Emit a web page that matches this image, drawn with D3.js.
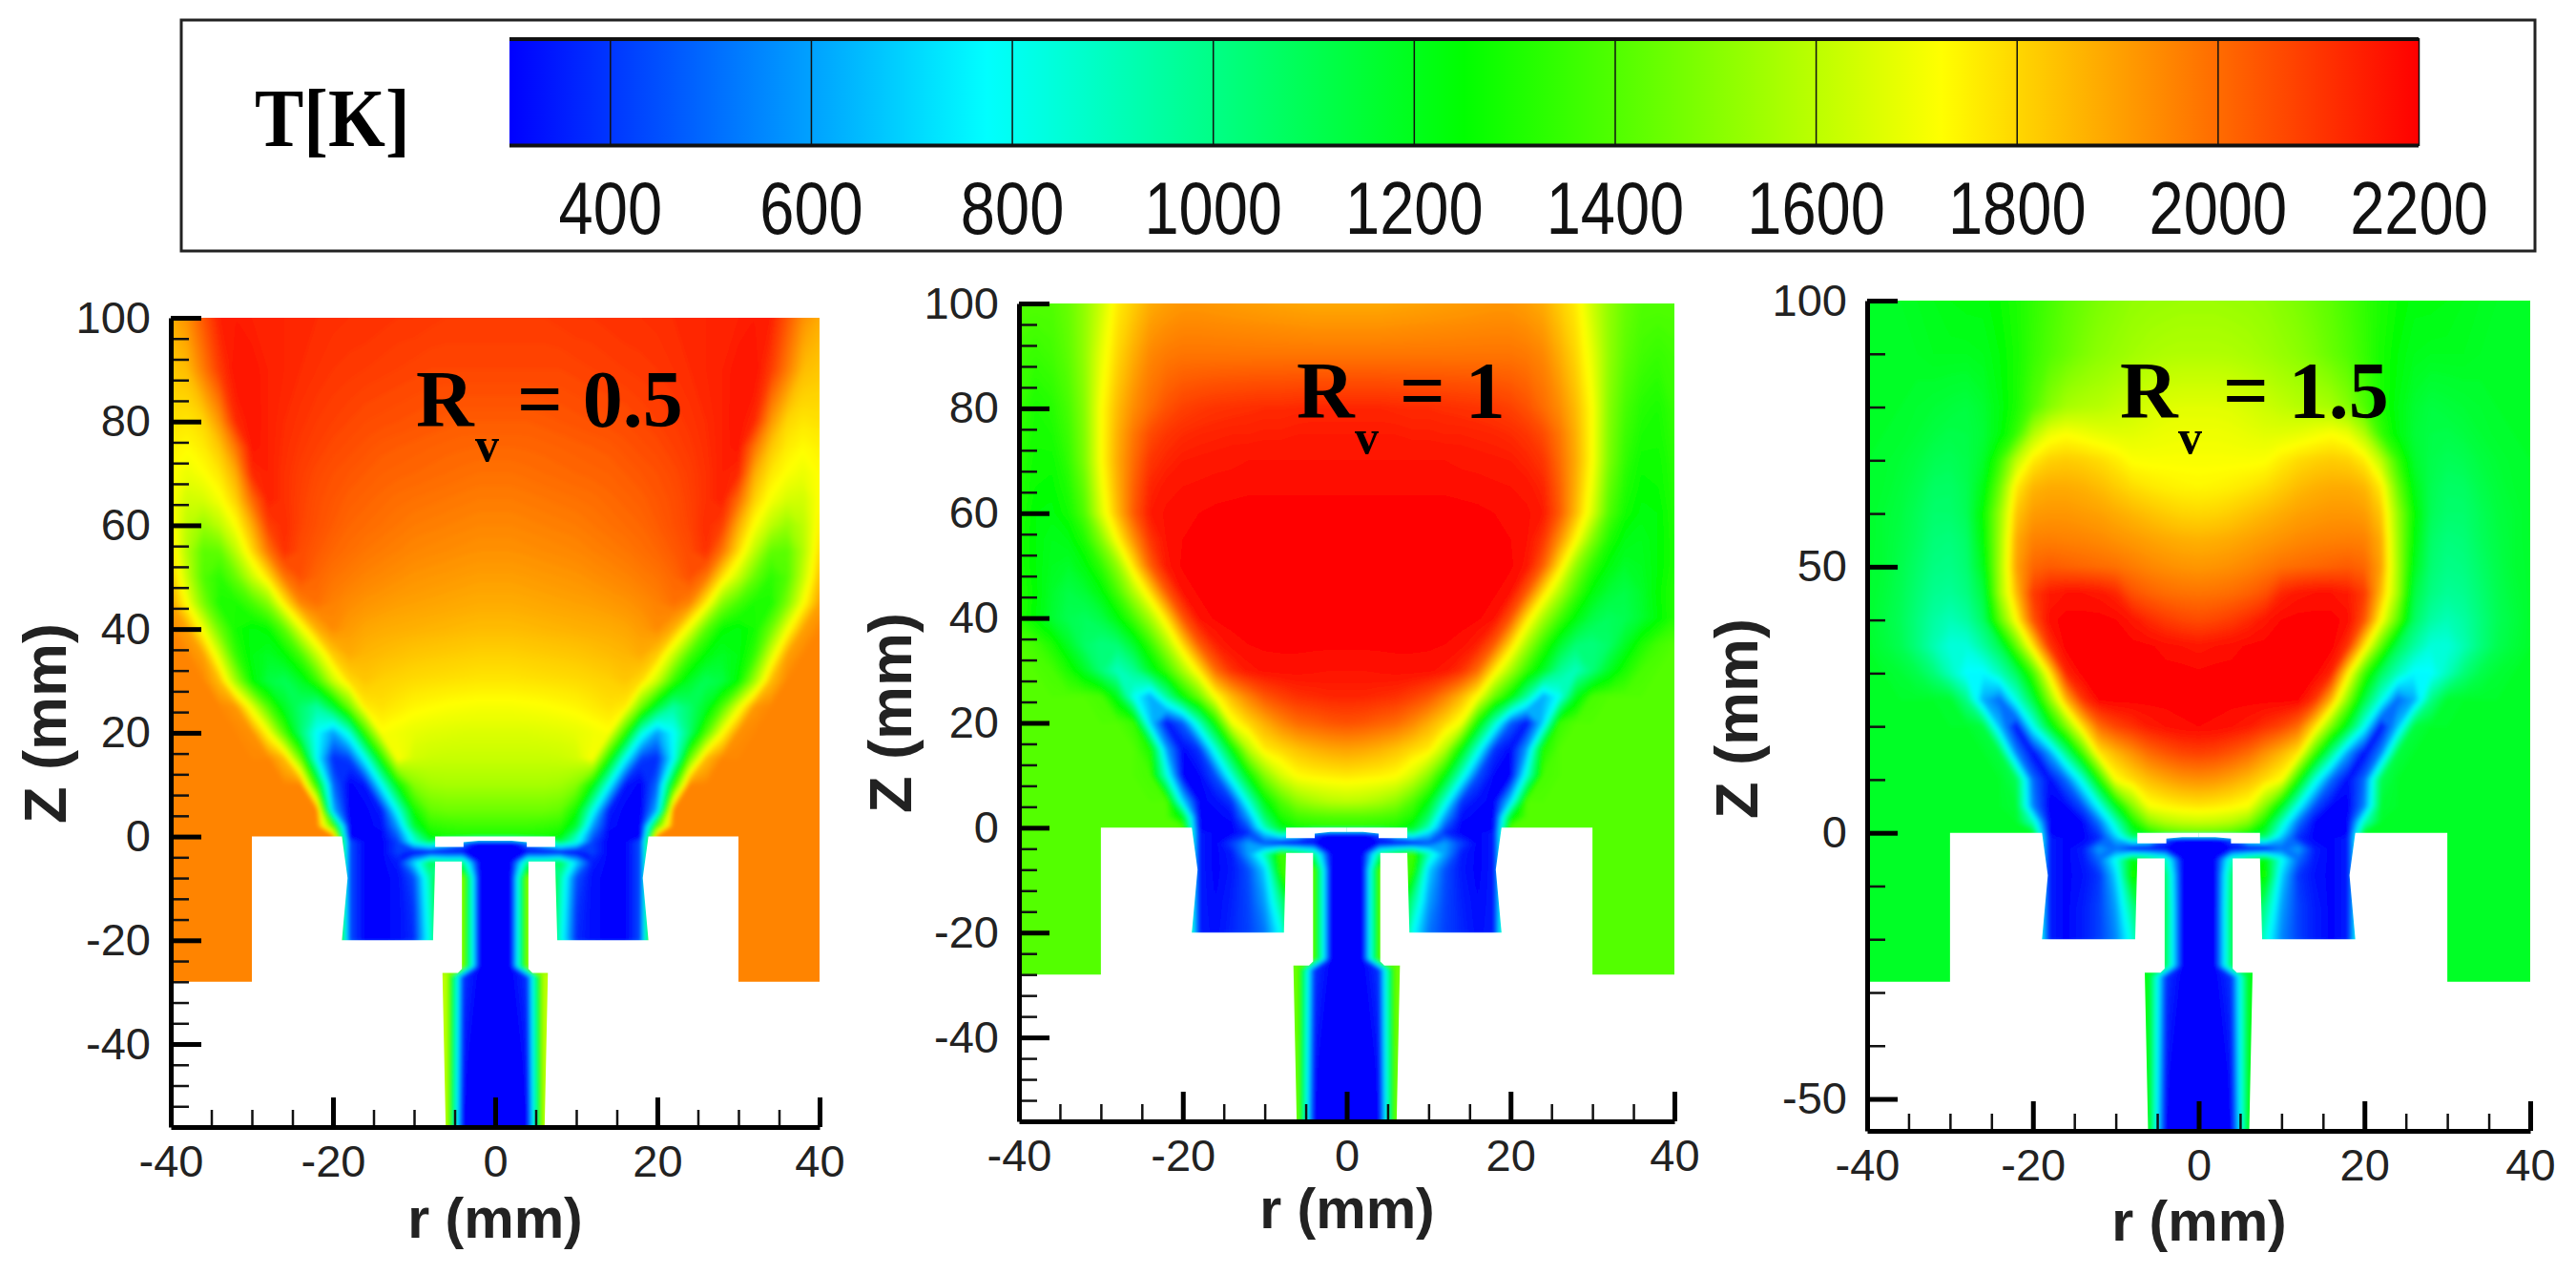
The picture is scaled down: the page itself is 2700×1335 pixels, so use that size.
<!doctype html>
<html lang="en">
<head>
<meta charset="UTF-8">
<title>Temperature fields</title>
<script src="https://d3js.org/d3.v7.min.js"></script>
<style>
  body { margin: 0; background: #fff; }
  svg { display: block; }
</style>
</head>
<body>
<div id="chart"></div>
<script>
  // temperature, half plane only (flames are symmetric about r = 0)
  const rCols = [0, 2, 4, 6, 8, 10, 12, 14, 16, 18, 20, 22, 24, 26, 28, 30, 32, 34, 36, 38, 40];
  const zRows = [100, 90, 80, 75, 70, 65, 60, 55, 50, 45, 40, 35, 30, 25, 20, 15, 10, 5, 2, 0, -1, -3, -5, -8, -14, -20, -25, -27, -56];

  const tempRv05 = [
    [2090,2090,2090,2090,2095,2100,2100,2105,2110,2110,2115,2120,2125,2130,2135,2140,2150,2140,2040,1930,1880],
    [2070,2070,2070,2070,2070,2075,2080,2085,2090,2095,2100,2110,2120,2130,2140,2160,2170,2090,1970,1850,1830],
    [2030,2030,2030,2035,2040,2045,2050,2055,2060,2070,2080,2090,2105,2120,2140,2165,2120,1920,1800,1770,1780],
    [2010,2010,2012,2015,2020,2025,2030,2035,2045,2055,2065,2080,2095,2115,2140,2160,1980,1830,1760,1730,1750],
    [1990,1990,1995,2000,2005,2010,2015,2020,2030,2040,2050,2065,2085,2110,2140,2120,1880,1770,1720,1690,1730],
    [1970,1970,1975,1980,1985,1990,1995,2005,2015,2025,2040,2055,2080,2110,2140,2000,1810,1710,1650,1640,1730],
    [1950,1950,1955,1960,1965,1970,1980,1990,2000,2010,2030,2050,2075,2120,2080,1880,1720,1600,1530,1600,1750],
    [1930,1930,1935,1940,1945,1950,1960,1970,1980,1995,2010,2035,2060,2110,1980,1790,1600,1430,1420,1580,1790],
    [1905,1905,1910,1915,1920,1925,1935,1945,1955,1970,1985,2010,2050,1980,1780,1620,1440,1330,1400,1620,1840],
    [1880,1880,1885,1890,1895,1900,1905,1915,1925,1940,1960,1990,1950,1760,1500,1380,1300,1300,1480,1720,1900],
    [1850,1850,1855,1860,1865,1870,1875,1880,1890,1910,1940,1870,1680,1420,1260,1230,1280,1450,1700,1900,1950],
    [1810,1810,1815,1820,1825,1830,1840,1850,1860,1880,1820,1620,1380,1240,1180,1220,1350,1650,1900,1950,1950],
    [1770,1770,1775,1780,1785,1790,1800,1810,1830,1790,1620,1350,1180,1090,1130,1260,1550,1850,1950,1950,1950],
    [1710,1710,1715,1720,1730,1740,1760,1780,1760,1450,1150,950,1050,1180,1400,1680,1920,1950,1950,1950,1950],
    [1660,1660,1660,1665,1670,1680,1700,1720,1350,850,600,780,1050,1400,1720,1930,1950,1950,1950,1950,1950],
    [1620,1620,1620,1620,1625,1640,1720,1300,800,420,380,780,1450,1850,1950,1950,1950,1950,1950,1950,1950],
    [1560,1560,1560,1560,1550,1500,1260,800,340,300,500,1300,1950,1950,1950,1950,1950,1950,1950,1950,1950],
    [1450,1450,1450,1450,1430,1280,820,350,300,300,650,1950,1950,1950,1950,1950,1950,1950,1950,1950,1950],
    [1360,1360,1360,1350,1330,1150,600,320,300,300,1400,1950,1950,1950,1950,1950,1950,1950,1950,1950,1950],
    [1300,1300,1300,1290,1250,900,480,300,300,300,1950,1950,1950,1950,1950,1950,1950,1950,1950,1950,1950],
    [300,300,600,800,1100,850,420,300,300,450,1950,1950,1950,1950,1950,1950,1950,1950,1950,1950,1950],
    [300,300,300,300,300,300,420,300,300,450,1950,1950,1950,1950,1950,1950,1950,1950,1950,1950,1950],
    [300,300,1000,1000,1100,700,350,300,300,450,1950,1950,1950,1950,1950,1950,1950,1950,1950,1950,1950],
    [300,300,1500,1500,950,450,320,300,300,450,1950,1950,1950,1950,1950,1950,1950,1950,1950,1950,1950],
    [300,300,1500,1500,900,400,320,300,300,450,1950,1950,1950,1950,1950,1950,1950,1950,1950,1950,1950],
    [300,300,1500,1500,850,380,320,300,300,450,1950,1950,1950,1950,1950,1950,1950,1950,1950,1950,1950],
    [300,300,1500,1500,1500,1500,1500,1500,1500,1500,1950,1950,1950,1950,1950,1950,1950,1950,1950,1950,1950],
    [300,300,400,1600,1600,1600,1600,1600,1600,1600,1950,1950,1950,1950,1950,1950,1950,1950,1950,1950,1950],
    [300,300,300,1600,1600,1600,1600,1600,1600,1600,1950,1950,1950,1950,1950,1950,1950,1950,1950,1950,1950]
  ];

  const tempRv1 = [
    [1885,1885,1885,1890,1895,1900,1905,1910,1915,1920,1920,1905,1880,1820,1760,1630,1520,1440,1400,1400,1400],
    [1985,1985,1985,1985,1985,1985,1985,1985,1985,1985,1985,1975,1950,1880,1800,1680,1520,1420,1370,1350,1370],
    [2130,2130,2130,2125,2120,2120,2115,2110,2105,2095,2080,2050,2000,1940,1850,1720,1500,1380,1320,1300,1350],
    [2150,2150,2150,2150,2145,2145,2140,2140,2135,2130,2120,2100,2060,1980,1870,1720,1490,1360,1300,1290,1340],
    [2170,2170,2170,2170,2170,2170,2170,2165,2160,2155,2150,2130,2100,2000,1880,1720,1480,1340,1270,1270,1330],
    [2185,2185,2185,2185,2185,2185,2185,2180,2180,2175,2170,2160,2130,2020,1870,1690,1440,1310,1250,1260,1320],
    [2200,2200,2200,2200,2200,2200,2200,2200,2195,2190,2185,2175,2150,2030,1850,1650,1400,1280,1230,1240,1310],
    [2200,2200,2200,2200,2200,2200,2200,2200,2200,2195,2190,2170,2100,1930,1730,1490,1310,1220,1200,1240,1300],
    [2200,2200,2200,2200,2200,2200,2200,2200,2200,2200,2195,2160,2020,1780,1520,1340,1230,1170,1190,1240,1300],
    [2200,2200,2200,2200,2200,2200,2200,2200,2200,2195,2170,2030,1790,1580,1380,1230,1150,1120,1170,1250,1320],
    [2200,2200,2200,2200,2200,2200,2200,2200,2195,2170,2040,1780,1560,1380,1230,1120,1080,1100,1160,1240,1320],
    [2195,2195,2195,2195,2195,2195,2190,2180,2140,2030,1800,1560,1350,1170,1040,1020,1060,1180,1300,1370,1400],
    [2170,2170,2175,2180,2180,2175,2160,2110,2000,1770,1560,1350,1180,980,900,1030,1180,1300,1380,1400,1400],
    [2130,2130,2120,2110,2080,2040,1960,1860,1720,1450,1250,950,620,800,1200,1380,1400,1400,1400,1400,1400],
    [2050,2040,2020,2000,1950,1880,1800,1700,1280,900,480,340,700,1350,1400,1400,1400,1400,1400,1400,1400],
    [1900,1890,1870,1840,1800,1760,1590,1250,850,400,310,600,1300,1400,1400,1400,1400,1400,1400,1400,1400],
    [1770,1760,1750,1730,1650,1500,1250,870,450,310,300,850,1380,1400,1400,1400,1400,1400,1400,1400,1400],
    [1600,1590,1560,1510,1400,1230,850,400,320,300,700,1400,1400,1400,1400,1400,1400,1400,1400,1400,1400],
    [1400,1400,1390,1370,1300,1060,600,320,300,300,1200,1400,1400,1400,1400,1400,1400,1400,1400,1400,1400],
    [1320,1320,1310,1290,1200,900,450,300,300,300,1400,1400,1400,1400,1400,1400,1400,1400,1400,1400,1400],
    [300,300,500,800,1000,700,380,300,300,350,1400,1400,1400,1400,1400,1400,1400,1400,1400,1400,1400],
    [300,300,300,300,300,450,600,420,300,350,1400,1400,1400,1400,1400,1400,1400,1400,1400,1400,1400],
    [300,300,1000,1200,1400,900,600,350,300,350,1400,1400,1400,1400,1400,1400,1400,1400,1400,1400,1400],
    [300,300,1400,1400,1350,700,450,340,300,350,1400,1400,1400,1400,1400,1400,1400,1400,1400,1400,1400],
    [300,300,1400,1400,1000,600,430,360,310,350,1400,1400,1400,1400,1400,1400,1400,1400,1400,1400,1400],
    [300,300,1400,1400,800,520,420,370,320,350,1400,1400,1400,1400,1400,1400,1400,1400,1400,1400,1400],
    [300,300,1400,1400,1400,1400,1400,1400,1400,1400,1400,1400,1400,1400,1400,1400,1400,1400,1400,1400,1400],
    [300,300,400,1450,1450,1450,1450,1450,1450,1450,1400,1400,1400,1400,1400,1400,1400,1400,1400,1400,1400],
    [300,300,300,1450,1450,1450,1450,1450,1450,1450,1400,1400,1400,1400,1400,1400,1400,1400,1400,1400,1400]
  ];

  const tempRv15 = [
    [1540,1540,1535,1530,1520,1500,1480,1450,1420,1380,1340,1300,1260,1230,1230,1220,1200,1190,1180,1170,1170],
    [1580,1580,1575,1565,1550,1530,1510,1480,1440,1400,1350,1290,1240,1200,1190,1190,1190,1180,1170,1170,1170],
    [1670,1670,1665,1650,1630,1610,1590,1580,1560,1500,1400,1300,1220,1160,1130,1140,1150,1160,1170,1170,1170],
    [1695,1695,1690,1680,1670,1670,1680,1700,1720,1690,1580,1350,1230,1150,1120,1115,1130,1150,1165,1170,1170],
    [1715,1715,1715,1715,1720,1760,1790,1810,1820,1810,1760,1600,1350,1170,1110,1090,1100,1130,1150,1165,1170],
    [1740,1745,1755,1770,1790,1820,1850,1870,1880,1880,1860,1760,1450,1210,1100,1065,1070,1110,1140,1160,1170],
    [1800,1805,1820,1840,1860,1880,1900,1910,1920,1920,1910,1830,1530,1260,1090,1050,1050,1090,1130,1150,1170],
    [1870,1875,1885,1900,1915,1930,1945,1955,1960,1965,1960,1880,1550,1240,1060,1020,1030,1080,1120,1150,1170],
    [1920,1925,1935,1950,1970,1990,2000,2010,2020,2030,2010,1900,1560,1200,1040,1000,1010,1060,1110,1150,1165],
    [1985,1990,2000,2020,2050,2130,2160,2170,2170,2150,2090,1850,1550,1130,1010,970,985,1040,1100,1140,1165],
    [2060,2070,2090,2120,2160,2190,2200,2200,2200,2180,2040,1730,1420,1070,950,910,950,1020,1090,1130,1165],
    [2160,2170,2180,2195,2200,2200,2200,2200,2200,2100,1770,1420,1100,950,840,840,920,1020,1100,1140,1170],
    [2195,2200,2200,2200,2200,2200,2200,2200,2130,1760,1370,1080,900,760,770,900,1030,1110,1150,1170,1170],
    [2200,2200,2200,2200,2200,2200,2190,2100,1860,1500,1130,830,500,620,1000,1160,1170,1170,1170,1170,1170],
    [2190,2185,2170,2150,2110,2070,2000,1790,1480,1180,800,340,650,1130,1170,1170,1170,1170,1170,1170,1170],
    [2080,2070,2040,2000,1930,1860,1770,1380,1000,600,320,550,1130,1170,1170,1170,1170,1170,1170,1170,1170],
    [1930,1920,1890,1850,1790,1720,1300,850,500,320,500,1100,1170,1170,1170,1170,1170,1170,1170,1170,1170],
    [1770,1760,1740,1710,1500,1200,800,450,310,300,550,1150,1170,1170,1170,1170,1170,1170,1170,1170,1170],
    [1620,1610,1580,1500,1280,900,520,310,300,300,900,1170,1170,1170,1170,1170,1170,1170,1170,1170,1170],
    [1450,1440,1400,1300,1150,750,420,300,300,300,1170,1170,1170,1170,1170,1170,1170,1170,1170,1170,1170],
    [300,300,500,900,1000,650,380,300,300,350,1170,1170,1170,1170,1170,1170,1170,1170,1170,1170,1170],
    [300,300,300,300,300,500,600,350,300,350,1170,1170,1170,1170,1170,1170,1170,1170,1170,1170,1170],
    [300,300,900,1100,1250,800,500,340,300,350,1170,1170,1170,1170,1170,1170,1170,1170,1170,1170,1170],
    [300,300,1050,1150,1300,700,400,330,300,350,1170,1170,1170,1170,1170,1170,1170,1170,1170,1170,1170],
    [300,300,1100,1150,1000,600,420,350,300,350,1170,1170,1170,1170,1170,1170,1170,1170,1170,1170,1170],
    [300,300,1100,1150,850,550,420,350,300,350,1170,1170,1170,1170,1170,1170,1170,1170,1170,1170,1170],
    [300,300,1100,1150,1150,1150,1150,1150,1150,1150,1170,1170,1170,1170,1170,1170,1170,1170,1170,1170,1170],
    [300,300,400,1200,1200,1200,1200,1200,1200,1200,1170,1170,1170,1170,1170,1170,1170,1170,1170,1170,1170],
    [300,300,300,1200,1200,1200,1200,1200,1200,1200,1170,1170,1170,1170,1170,1170,1170,1170,1170,1170,1170]
  ];

  // solid walls (white), r >= 0 side, in mm
  const solidWall = [[4.1,-4.8],[7.4,-4.8],[7.66,-20],[18.9,-20],[18.2,-8],[18.9,0],[30,0],[30,-28],[40.5,-28],[40.5,-56],[6.1,-56],[6.5,-26.3],[4.6,-26.3],[4.1,-25.5]];
  const capGap = [[0,0],[7.4,0],[7.4,-2],[3.9,-2],[3.9,-1.1],[2,-0.8],[0,-0.8]];

  const rMajor = [-40, -20, 0, 20, 40];
  const rMinor = [-35, -30, -25, -15, -10, -5, 5, 10, 15, 25, 30, 35];
  const zMajor20 = [100, 80, 60, 40, 20, 0, -20, -40];
  const zMinor20 = [96, 92, 88, 84, 76, 72, 68, 64, 56, 52, 48, 44, 36, 32, 28, 24, 16, 12, 8, 4, -4, -8, -12, -16, -24, -28, -32, -36, -44, -48, -52];
  const zMajor50 = [100, 50, 0, -50];
  const zMinor50 = [90, 80, 70, 60, 40, 30, 20, 10, -10, -20, -30, -40];

  const legendTicks = [400, 600, 800, 1000, 1200, 1400, 1600, 1800, 2000, 2200];
  const tempStops = [300, 775, 1250, 1725, 2200];
  const colorStops = ['#0000ff', '#00ffff', '#00ff00', '#ffff00', '#ff0000'];
  const levels = d3.range(290, 2200, 10);

  const panels = [
    { temp: tempRv05, rv: '= 0.5', left: 179, right: 859, top: 333, bottom: 1181, zMajor: zMajor20, zMinor: zMinor20,
      rLabel: [519, 1297], zLabel: [69, 758], rText: [436, 447], vText: [498, 483], eqText: [542, 447] },
    { temp: tempRv1, rv: '= 1', left: 1068, right: 1755, top: 318, bottom: 1175, zMajor: zMajor20, zMinor: zMinor20,
      rLabel: [1412, 1287], zLabel: [955, 747], rText: [1359, 438], vText: [1420, 475], eqText: [1467, 438] },
    { temp: tempRv15, rv: '= 1.5', left: 1957, right: 2652, top: 315, bottom: 1185, zMajor: zMajor50, zMinor: zMinor50,
      rLabel: [2305, 1300], zLabel: [1842, 753], rText: [2222, 438], vText: [2283, 475], eqText: [2330, 438] }
  ];

  const sans = '"Liberation Sans", Arial, sans-serif';
  const serif = '"Liberation Serif", "Times New Roman", serif';

  const svg = d3.select('#chart').append('svg')
    .attr('width', 2700)
    .attr('height', 1335);

  const defs = svg.append('defs');
  defs.append('filter').attr('id', 'soften')
    .append('feGaussianBlur').attr('stdDeviation', 2);

  const tempColor = d3.scaleLinear().domain(tempStops).range(colorStops).clamp(true);

  function drawLegend() {
    const legendX = d3.scaleLinear().domain([300, 2200]).range([534, 2535]);

    svg.append('rect')
      .attr('x', 190).attr('y', 21)
      .attr('width', 2467).attr('height', 242)
      .attr('fill', 'none').attr('stroke', '#222').attr('stroke-width', 3);

    const gradient = defs.append('linearGradient').attr('id', 'legendRamp');
    gradient.selectAll('stop').data(tempStops).join('stop')
      .attr('offset', d => (d - 300) / 1900)
      .attr('stop-color', d => tempColor(d));

    svg.append('rect')
      .attr('x', legendX(300)).attr('y', 40)
      .attr('width', legendX(2200) - legendX(300)).attr('height', 113)
      .attr('fill', 'url(#legendRamp)');
    svg.append('path')
      .attr('d', `M${legendX(300)},41H${legendX(2200)}M${legendX(300)},152.5H${legendX(2200)}`)
      .attr('stroke', '#111').attr('stroke-width', 4);

    const axis = svg.append('g')
      .attr('transform', 'translate(0,40)')
      .call(d3.axisBottom(legendX).tickValues(legendTicks).tickSize(113).tickFormat(d => d));
    axis.select('.domain').remove();
    axis.selectAll('line').attr('stroke', '#111').attr('stroke-width', 1.5);
    axis.selectAll('text')
      .attr('font-family', sans).attr('font-size', 65).attr('fill', '#111')
      .attr('y', 171).attr('dy', 0)
      .attr('transform', 'scale(1,1.2)');

    svg.append('text')
      .attr('transform', 'translate(267,153) scale(1,1.12)')
      .attr('font-family', serif).attr('font-weight', 'bold').attr('font-size', 77)
      .text('T[K]');
  }

  function drawPanel(p, i) {
    const rScale = d3.scaleLinear().domain([-40, 40]).range([p.left, p.right]);
    const zScale = d3.scaleLinear().domain([-56, 100]).range([p.bottom, p.top]);

    // full width grid, mirrored from the half plane table
    const rFull = [...rCols.slice(1).reverse().map(d => -d), ...rCols];
    const values = p.temp.flatMap(row => {
      if (row.length !== rCols.length) throw new Error('bad row length in panel ' + i + ': ' + row.length);
      return [...row.slice(1).reverse(), ...row];
    });
    if (p.temp.length !== zRows.length) throw new Error('bad row count in panel ' + i);

    // grid index -> mm, non uniform rows handled by a piecewise scale
    const colToR = d3.scaleLinear().domain(d3.range(rFull.length)).range(rFull);
    const rowToZ = d3.scaleLinear().domain(d3.range(zRows.length)).range(zRows);
    const gridPath = d3.geoPath(d3.geoTransform({
      point(x, y) {
        this.stream.point(rScale(colToR(x - 0.5)), zScale(rowToZ(y - 0.5)));
      }
    }));

    const contours = d3.contours()
      .size([rFull.length, zRows.length])
      .thresholds(levels)(values);

    const clipId = 'field' + i;
    defs.append('clipPath').attr('id', clipId)
      .append('rect')
      .attr('x', rScale(-40)).attr('y', zScale(100))
      .attr('width', rScale(40) - rScale(-40))
      .attr('height', zScale(-56) - zScale(100));

    const panel = svg.append('g');
    const field = panel.append('g').attr('clip-path', `url(#${clipId})`);
    field.append('g').attr('filter', 'url(#soften)')
      .selectAll('path').data(contours).join('path')
      .attr('d', gridPath)
      .attr('fill', d => tempColor(d.value + 5));

    // walls are white in the picture
    const wallLine = side => d3.line().x(d => rScale(side * d[0])).y(d => zScale(d[1]));
    [1, -1].forEach(side => {
      [solidWall, capGap].forEach(shape => {
        field.append('path')
          .attr('d', wallLine(side)(shape) + 'Z')
          .attr('fill', '#fff');
      });
    });

    // axes
    const tickText = g => g.selectAll('text')
      .attr('font-family', sans).attr('font-size', 47).attr('fill', '#222');

    const yMinor = panel.append('g')
      .attr('transform', `translate(${p.left},0)`)
      .call(d3.axisLeft(zScale).tickValues(p.zMinor).tickSize(-19).tickFormat(''));
    yMinor.select('.domain').remove();
    yMinor.selectAll('line').attr('stroke', '#111').attr('stroke-width', 2.5);

    const xMinor = panel.append('g')
      .attr('transform', `translate(0,${p.bottom})`)
      .call(d3.axisBottom(rScale).tickValues(rMinor).tickSize(-18).tickFormat(''));
    xMinor.select('.domain').remove();
    xMinor.selectAll('line').attr('stroke', '#111').attr('stroke-width', 2.5);

    const yMajor = panel.append('g')
      .attr('transform', `translate(${p.left},0)`)
      .call(d3.axisLeft(zScale).tickValues(p.zMajor).tickSize(-32).tickSizeOuter(0).tickPadding(21).tickFormat(d => String(d)));
    yMajor.selectAll('line').attr('stroke', '#000').attr('stroke-width', 5);
    yMajor.select('.domain').attr('stroke', '#000').attr('stroke-width', 5);
    tickText(yMajor);

    const xMajor = panel.append('g')
      .attr('transform', `translate(0,${p.bottom})`)
      .call(d3.axisBottom(rScale).tickValues(rMajor).tickSize(-31).tickSizeOuter(0).tickPadding(19).tickFormat(d => String(d)));
    xMajor.selectAll('line').attr('stroke', '#000').attr('stroke-width', 5);
    xMajor.select('.domain').attr('stroke', '#000').attr('stroke-width', 5);
    tickText(xMajor);

    panel.append('text')
      .attr('x', p.rLabel[0]).attr('y', p.rLabel[1])
      .attr('text-anchor', 'middle')
      .attr('font-family', sans).attr('font-weight', 'bold').attr('font-size', 59).attr('fill', '#222')
      .text('r (mm)');

    panel.append('text')
      .attr('transform', `translate(${p.zLabel[0]},${p.zLabel[1]}) rotate(-90)`)
      .attr('text-anchor', 'middle')
      .attr('font-family', sans).attr('font-weight', 'bold').attr('font-size', 63).attr('fill', '#222')
      .text('Z (mm)');

    const caption = panel.append('g')
      .attr('font-family', serif).attr('font-weight', 'bold').attr('fill', '#000');
    caption.append('text').attr('x', p.rText[0]).attr('y', p.rText[1]).attr('font-size', 84).text('R');
    caption.append('text').attr('x', p.vText[0]).attr('y', p.vText[1]).attr('font-size', 50).text('v');
    caption.append('text').attr('x', p.eqText[0]).attr('y', p.eqText[1]).attr('font-size', 84).text(p.rv);
  }

  drawLegend();
  panels.forEach(drawPanel);
</script>
</body>
</html>
